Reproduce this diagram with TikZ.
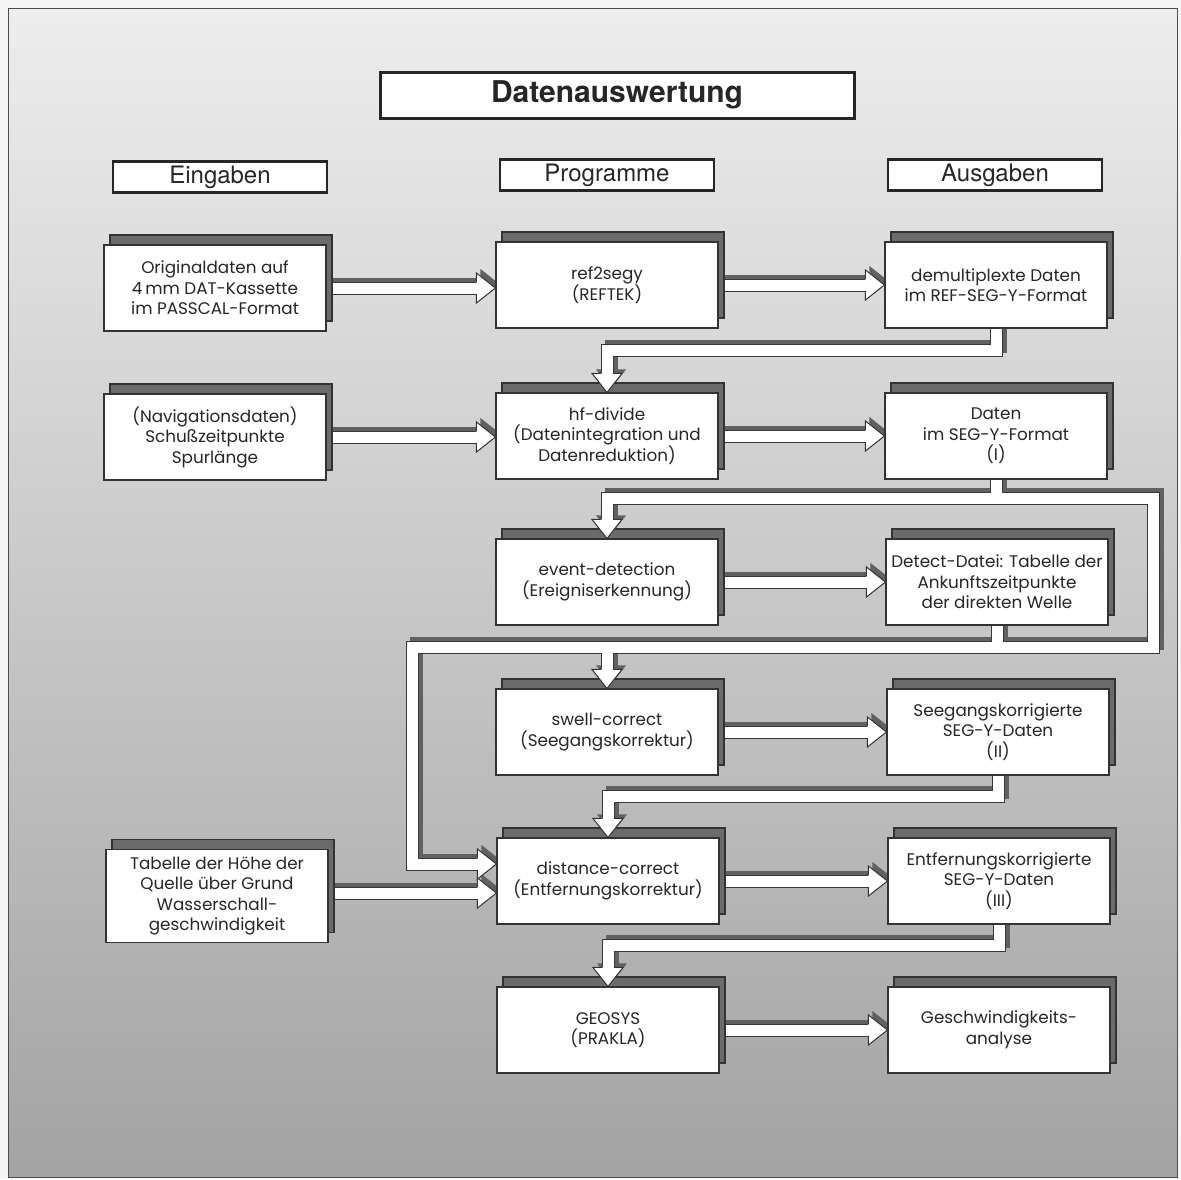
\documentclass[tikz,border=0pt]{standalone}
\usepackage{fontspec}
\setmainfont{Liberation Sans}
\newfontfamily\bodyf{Poppins}
\newfontfamily\helv{TeX Gyre Heros}
\usetikzlibrary{calc,shadows}
\pgfdeclarelayer{back}
\pgfdeclarelayer{pipes}
\pgfsetlayers{back,pipes,main}
\newcommand\hl{19}
\newcommand\hh{15}
\begin{document}
\begin{tikzpicture}[x=1pt,y=-1pt,
  box/.style={draw=black!80, line width=1.1pt, fill=white, minimum width=222pt, minimum height=86pt,
    align=center, inner sep=2pt, text=black!85, font=\bodyf\fontsize{16.8}{20.5}\selectfont,
    drop shadow={shadow xshift=6pt, shadow yshift=10pt, fill=black!58, draw=black!80, opacity=1}},
  hdr/.style={draw=black!85, line width=2.6pt, fill=white, minimum width=214pt, minimum height=31pt,
    inner sep=0pt, text=black!85, font=\helv\fontsize{24}{28}\selectfont},
  ttl/.style={draw=black!85, line width=3pt, fill=white, minimum width=474pt, minimum height=46pt,
    inner sep=0pt, text=black!85, font=\helv\bfseries\fontsize{30}{34}\selectfont},
  pshadow/.style={draw=black!62, line width=13pt, transform canvas={xshift=4pt,yshift=4pt}},
  pline/.style={draw=black!78, line width=13pt},
  pfill/.style={draw=white, line width=11pt},
  pics/hr/.style={code={\filldraw[fill=white,draw=black!80,line width=1pt,line join=miter]
      (-\hl,-6) -- (-\hl,-\hh) -- (0,0) -- (-\hl,\hh) -- (-\hl,6);}},
  pics/hd/.style={code={\filldraw[fill=white,draw=black!80,line width=1pt,line join=miter]
      (-6,-\hl) -- (-\hh,-\hl) -- (0,0) -- (\hh,-\hl) -- (6,-\hl);}},
  pics/hrs/.style={code={\fill[black!62] (-\hl+4,-\hh-4) -- (4,-4) -- (-\hl+4,\hh-4) -- cycle;}},
  pics/hds/.style={code={\fill[black!62] (-\hh+4,-\hl-4) -- (4,-4) -- (\hh+4,-\hl-4) -- cycle;}},
]
\useasboundingbox (0,0) rectangle (1181,1179);
\begin{pgfonlayer}{back}
  \fill[black!4] (0,0) rectangle (1181,1179);
  \shade[top color=black!7, middle color=black!20, bottom color=black!36] (8,8) rectangle (1177,1177);
  \draw[black!70, line width=1pt] (8,8) rectangle (1177,1177);
\end{pgfonlayer}

% title and headers
\node[ttl] (title) at (617,95) {Datenauswertung};
\node[hdr] (hin) at (220,177) {Eingaben};
\node[hdr] (hprog) at (607,175) {Programme};
\node[hdr] (hout) at (995,175) {Ausgaben};

% column 1
\node[box] (orig) at (215,288) {Originaldaten auf\\4\,mm DAT-Kassette\\im PASSCAL-Format};
\node[box] (nav) at (215,437) {(Navigationsdaten)\\Schußzeitpunkte\\Spurlänge};
\node[box, minimum height=93pt] (tab) at (217,896) {Tabelle der Höhe der\\Quelle über Grund\\Wasserschall-\\geschwindigkeit};
% column 2
\node[box] (ref) at (607,285) {ref2segy\\(REFTEK)};
\node[box] (hf) at (607,436) {hf-divide\\(Datenintegration und\\Datenreduktion)};
\node[box] (event) at (607,582) {event-detection\\(Ereigniserkennung)};
\node[box] (swell) at (607,732) {swell-correct\\(Seegangskorrektur)};
\node[box] (dist) at (608,881) {distance-correct\\(Entfernungskorrektur)};
\node[box] (geo) at (608,1030) {GEOSYS\\(PRAKLA)};
% column 3
\node[box] (demux) at (996,285) {demultiplexte Daten\\im REF-SEG-Y-Format};
\node[box] (daten) at (996,436) {Daten\\im SEG-Y-Format\\(I)};
\node[box] (detect) at (997,582) {Detect-Datei: Tabelle der\\Ankunftszeitpunkte\\der direkten Welle};
\node[box] (seeg) at (998,732) {Seegangskorrigierte\\SEG-Y-Daten\\(II)};
\node[box] (entf) at (999,881) {Entfernungskorrigierte\\SEG-Y-Daten\\(III)};
\node[box] (gesch) at (999,1030) {Geschwindigkeits-\\analyse};

% connector coordinates
\coordinate (t1) at (orig.east -| ref.west);
\coordinate (t2) at (ref.east -| demux.west);
\coordinate (k1) at ($(demux.south)+(0,22)$);
\coordinate (t3) at (hf.north);
\coordinate (t4) at (nav.east -| hf.west);
\coordinate (t5) at (hf.east -| daten.west);
\coordinate (k2) at ($(daten.south)+(0,19)$);
\coordinate (t6) at (event.north);
\coordinate (kR1) at ($(k2)+(157,0)$);
\coordinate (k3) at ($(detect.south)+(0,22)$);
\coordinate (kR2) at (kR1 |- k3);
\coordinate (kL1) at ($(k3 -| dist.west)+(-84,0)$);
\coordinate (t8) at ($(dist.west)+(0,-17)$);
\coordinate (kL2) at (kL1 |- t8);
\coordinate (t7) at (event.east -| detect.west);
\coordinate (t9) at (swell.north);
\coordinate (t10) at (swell.east -| seeg.west);
\coordinate (k4) at ($(seeg.south)+(0,21)$);
\coordinate (t11) at (dist.north);
\coordinate (t12) at ($(dist.west)+(0,12)$);
\coordinate (t13) at (dist.east -| entf.west);
\coordinate (k5) at ($(entf.south)+(0,21)$);
\coordinate (t14) at (geo.north);
\coordinate (t15) at (geo.east -| gesch.west);

\newcommand\pipepaths[1]{%
  \path[#1] (orig.east) -- ($(t1)+(-\hl+2,0)$);
  \path[#1] (ref.east) -- ($(t2)+(-\hl+2,0)$);
  \path[#1] (demux.south) -- (k1) -| ($(t3)+(0,-\hl+2)$);
  \path[#1] (nav.east) -- ($(t4)+(-\hl+2,0)$);
  \path[#1] (hf.east) -- ($(t5)+(-\hl+2,0)$);
  \path[#1] (daten.south) -- (k2);
  \path[#1] ($(t6)+(0,-\hl+2)$) -- (k2 -| t6) -- (kR1) -- (kR2) -- (kL1) -- (kL2) -- ($(t8)+(-\hl+2,0)$);
  \path[#1] (detect.south) -- (k3);
  \path[#1] (k3 -| t9) -- ($(t9)+(0,-\hl+2)$);
  \path[#1] (event.east) -- ($(t7)+(-\hl+2,0)$);
  \path[#1] (swell.east) -- ($(t10)+(-\hl+2,0)$);
  \path[#1] (seeg.south) -- (k4) -| ($(t11)+(0,-\hl+2)$);
  \path[#1] (tab.east |- t12) -- ($(t12)+(-\hl+2,0)$);
  \path[#1] (dist.east) -- ($(t13)+(-\hl+2,0)$);
  \path[#1] (entf.south) -- (k5) -| ($(t14)+(0,-\hl+2)$);
  \path[#1] (geo.east) -- ($(t15)+(-\hl+2,0)$);
}
\begin{pgfonlayer}{pipes}
  \foreach \t in {t1,t2,t4,t5,t7,t8,t10,t12,t13,t15} {\pic at (\t) {hrs};}
  \foreach \t in {t3,t6,t9,t11,t14} {\pic at (\t) {hds};}
  \pipepaths{pshadow}
  \pipepaths{pline}
  \pipepaths{pfill}
\end{pgfonlayer}
\foreach \t in {t1,t2,t4,t5,t7,t8,t10,t12,t13,t15} {\pic at (\t) {hr};}
\foreach \t in {t3,t6,t9,t11,t14} {\pic at (\t) {hd};}
\end{tikzpicture}
\end{document}
